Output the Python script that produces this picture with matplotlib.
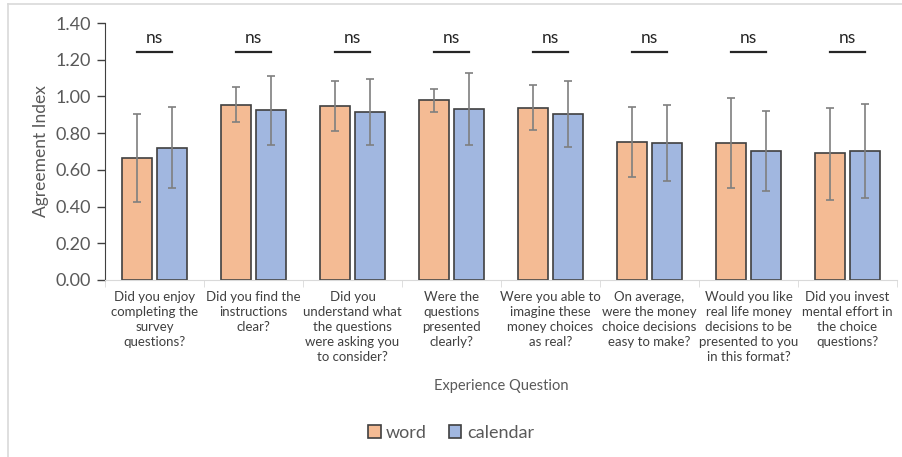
import numpy as np
from matplotlib import pyplot as plt
from matplotlib.lines import Line2D

plt.rcParams["font.family"] = ["Lato", "DejaVu Sans"]

questions = [
    "Did you enjoy\ncompleting the\nsurvey\nquestions?",
    "Did you find the\ninstructions\nclear?",
    "Did you\nunderstand what\nthe questions\nwere asking you\nto consider?",
    "Were the\nquestions\npresented\nclearly?",
    "Were you able to\nimagine these\nmoney choices\nas real?",
    "On average,\nwere the money\nchoice decisions\neasy to make?",
    "Would you like\nreal life money\ndecisions to be\npresented to you\nin this format?",
    "Did you invest\nmental effort in\nthe choice\nquestions?",
]

word_mean = [0.665, 0.951, 0.948, 0.979, 0.939, 0.752, 0.745, 0.690]
word_hi = [0.904, 1.050, 1.086, 1.042, 1.062, 0.944, 0.990, 0.939]
word_lo = [0.425, 0.859, 0.810, 0.915, 0.815, 0.563, 0.500, 0.436]

cal_mean = [0.720, 0.924, 0.913, 0.931, 0.906, 0.745, 0.703, 0.703]
cal_hi = [0.944, 1.111, 1.093, 1.129, 1.084, 0.951, 0.922, 0.960]
cal_lo = [0.500, 0.733, 0.737, 0.733, 0.724, 0.538, 0.487, 0.448]

sig = ["ns"] * 8
sig_y = 1.242

word_col = "#F4BB94"
cal_col = "#A1B7E0"
edge = "#404040"
grey = "#595959"

fig = plt.figure(figsize=(9.02, 4.57), dpi=100)
ax = fig.add_axes([105 / 902, 1 - 280 / 457, 792 / 902, 257 / 457])

x = np.arange(len(questions))
w = 0.30
off = 0.177

for means, hi, lo, col, sgn, lab in [
    (word_mean, word_hi, word_lo, word_col, -1, "word"),
    (cal_mean, cal_hi, cal_lo, cal_col, 1, "calendar"),
]:
    means = np.asarray(means)
    yerr = [means - np.asarray(lo), np.asarray(hi) - means]
    ax.bar(x + sgn * off, means, w, color=col, edgecolor=edge, linewidth=1.2, label=lab, zorder=2)
    ax.errorbar(x + sgn * off, means, yerr=yerr, fmt="none", ecolor="#7f7f7f",
                elinewidth=1.2, capsize=3, capthick=1.2, zorder=3)

for xi, s in zip(x, sig):
    ax.plot([xi - 0.18, xi + 0.18], [sig_y, sig_y], color="#262626", lw=1.6, zorder=3)
    ax.text(xi, sig_y + 0.03, s, ha="center", va="bottom", fontsize=12.5,
            color="#262626")

ax.set_xlim(-0.5, len(questions) - 0.5)
ax.set_ylim(0, 1.4)
ax.set_yticks(np.arange(0, 1.41, 0.2))
ax.set_yticklabels([f"{v:.2f}" for v in np.arange(0, 1.41, 0.2)], fontsize=13, color=grey)
ax.set_xticks(x)
ax.set_xticklabels(questions, fontsize=9.5, color="#404040", linespacing=1.3)
ax.set_xticks(np.arange(-0.5, len(questions)), minor=True)
ax.tick_params(axis="x", which="major", length=0, pad=8)
ax.tick_params(axis="x", which="minor", length=5, color="#d9d9d9")
ax.tick_params(axis="y", length=6, color="#404040", width=1, pad=4)

for sp in ["top", "right"]:
    ax.spines[sp].set_visible(False)
ax.spines["left"].set_color("#404040")
ax.spines["bottom"].set_color("#d9d9d9")

ax.set_ylabel("Agreement Index", fontsize=12.5, color=grey, labelpad=5)
fig.text(0.5 * (105 + 897) / 902, 1 - 386 / 457, "Experience Question",
         ha="center", va="center", fontsize=10.5, color=grey)

fig.legend(loc="center", bbox_to_anchor=(0.5, 1 - 433 / 457), ncol=2, frameon=False,
           fontsize=13, handlelength=0.7, handleheight=0.7, handletextpad=0.3,
           columnspacing=1.2, labelcolor=grey)

# light outer frame
fig.add_artist(Line2D([8 / 902, 8 / 902], [0, 1 - 4 / 457], color="#d9d9d9", lw=1.2,
                      transform=fig.transFigure))
fig.add_artist(Line2D([8 / 902, 1], [1 - 4 / 457, 1 - 4 / 457], color="#d9d9d9", lw=1.2,
                      transform=fig.transFigure))

fig.savefig("out.png", dpi=100)
